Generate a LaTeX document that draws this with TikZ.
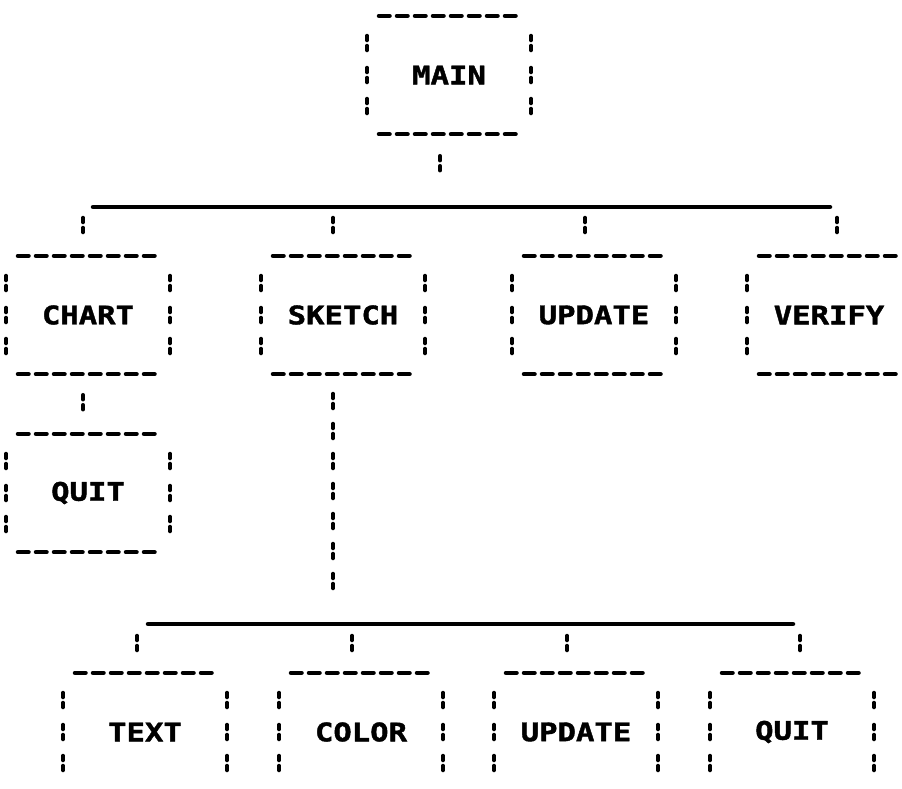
\documentclass[tikz,border=0pt]{standalone}
\usepackage{fontspec}
\newfontfamily\plotfont[FakeStretch=1.2,FakeBold=1.6]{DejaVu Sans Mono}
\tikzset{
  box/.style={rectangle, inner sep=0pt, minimum width=164pt, minimum height=118pt,
    font=\plotfont\bfseries\fontsize{25.5}{28}\selectfont},
  hline/.style={line width=4.5pt, line cap=round, dash pattern=on 10.5pt off 7.5pt},
  sidemark/.style={line width=4pt, line cap=round, dash pattern=on 4.5pt off 5.5pt on 4.5pt off 200pt},
  link/.style={sidemark, dash phase=#1},
  multilink/.style={line width=4pt, line cap=round,
    dash pattern=on 4.5pt off 5.5pt on 4.5pt off 15.5pt, dash phase=#1},
  bus/.style={line width=4.5pt, line cap=round}
}
\newcommand\boxdeco[1]{%
  \draw[hline] ([xshift=-70pt]#1.north) -- ([xshift=70pt]#1.north);
  \draw[hline] ([xshift=-70pt]#1.south) -- ([xshift=70pt]#1.south);
  \foreach \sx in {-82,82}{\foreach \dy in {32,0,-31}{%
    \draw[sidemark] ([xshift=\sx pt, yshift={(\dy+7.25)*1pt}]#1.center) -- ++(0,14.5);}}%
}
\begin{document}
\begin{tikzpicture}[x=1pt,y=-1pt]
\useasboundingbox (0,0) rectangle (902,788);
\clip (0,0) rectangle (902,788);
% boxes
\node[box] (main) at (449,75) {MAIN};
\node[box] (chart) at (88,315) {CHART};
\node[box] (sketch) at (343,315) {SKETCH};
\node[box] (update) at (594,315) {UPDATE};
\node[box] (verify) at (829,315) {VERIFY};
\node[box] (quitA) at (88,493) {QUIT};
\node[box] (text) at (145,732) {TEXT};
\node[box] (color) at (361,732) {COLOR};
\node[box] (updateB) at (576,732) {UPDATE};
\node[box] (quitB) at (792,732) {QUIT};
\foreach \n in {main,chart,sketch,update,verify,quitA,text,color,updateB,quitB}{\boxdeco{\n}}
% buses
\coordinate (busAw) at (93,207);
\coordinate (busAe) at (830,207);
\coordinate (busBw) at (148,624);
\coordinate (busBe) at (793,624);
\coordinate (sktail) at (333,598);
\draw[bus] (busAw) -- (busAe);
\draw[bus] (busBw) -- (busBe);
% connectors
\draw[link=192.75pt] ([xshift=-9pt]main.south) -- ([xshift=-9pt]main.south |- busAw);
\draw[link=203.75pt] ([xshift=-5pt]chart.north |- busAw) -- ([xshift=-5pt]chart.north);
\draw[link=203.75pt] ([xshift=-10pt]sketch.north |- busAw) -- ([xshift=-10pt]sketch.north);
\draw[link=203.75pt] ([xshift=-9pt]update.north |- busAw) -- ([xshift=-9pt]update.north);
\draw[link=203.75pt] ([xshift=8pt]verify.north |- busAw) -- ([xshift=8pt]verify.north);
\draw[link=193.75pt] ([xshift=-5pt]chart.south) -- ([xshift=-5pt]quitA.north);
\draw[multilink=20.25pt] (sktail) -- ([xshift=-10pt,yshift=-6pt]sketch.south);
\draw[link=202.75pt] ([xshift=-8pt]text.north |- busBw) -- ([xshift=-8pt]text.north);
\draw[link=202.75pt] ([xshift=-9pt]color.north |- busBw) -- ([xshift=-9pt]color.north);
\draw[link=202.75pt] ([xshift=-9pt]updateB.north |- busBw) -- ([xshift=-9pt]updateB.north);
\draw[link=202.75pt] ([xshift=8pt]quitB.north |- busBw) -- ([xshift=8pt]quitB.north);
\end{tikzpicture}
\end{document}
